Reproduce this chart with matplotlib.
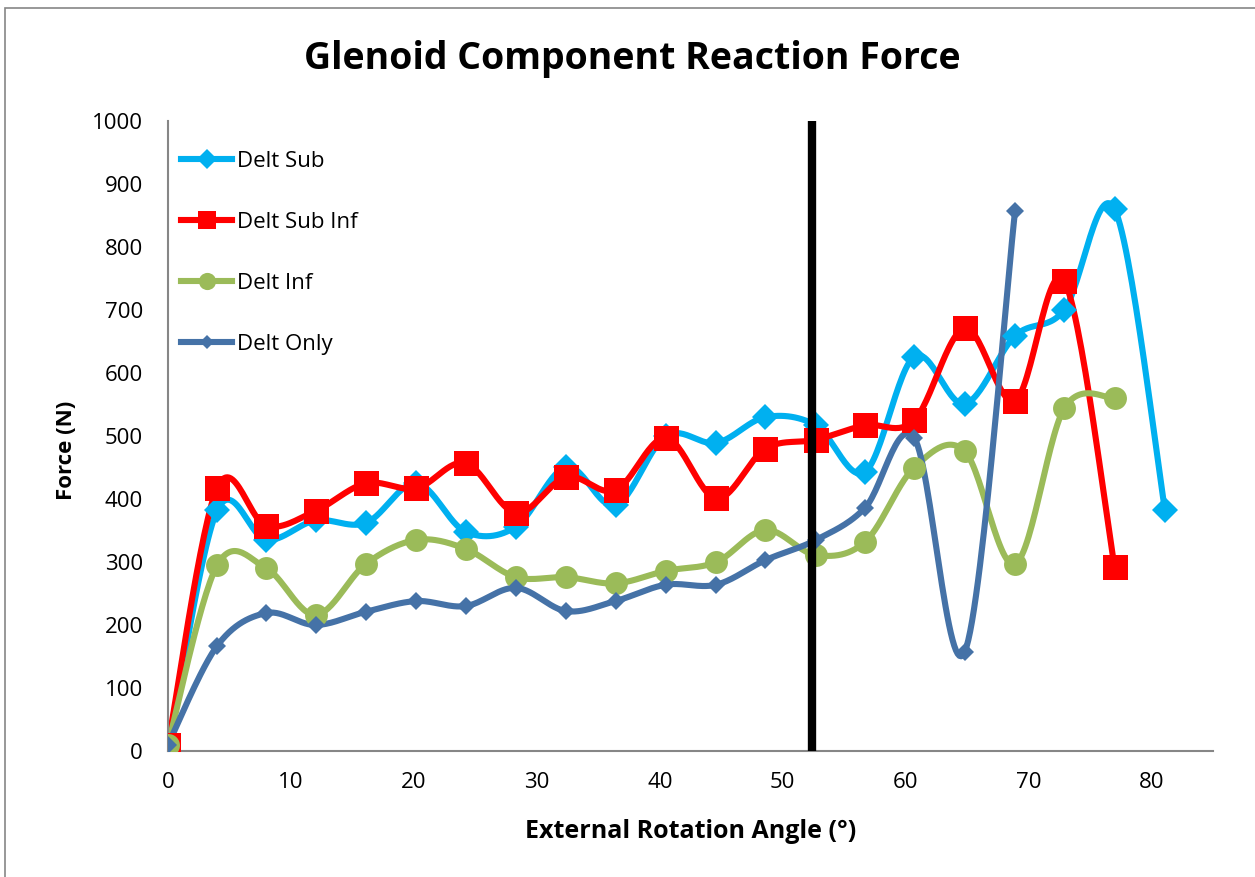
import numpy as np
import matplotlib.pyplot as plt
from matplotlib.patches import Rectangle

plt.rcParams['font.family'] = ['Open Sans', 'DejaVu Sans']

# external rotation angle (deg) at each sample
angle = [0, 4.0, 8.0, 12.0, 16.1, 20.2, 24.2, 28.3, 32.4, 36.4, 40.5,
         44.6, 48.6, 52.7, 56.7, 60.7, 64.8, 68.9, 72.9, 77.0, 81.1]

delt_sub = [0, 382, 335, 366, 362, 425, 348, 356, 451, 390, 500,
            489, 530, 517, 443, 626, 551, 659, 700, 860, 382]
delt_sub_inf = [10, 418, 357, 381, 425, 417, 457, 378, 435, 414, 497,
                401, 480, 494, 517, 525, 671, 556, 746, 292]
delt_inf = [10, 295, 290, 216, 297, 335, 321, 276, 276, 266, 286,
            300, 351, 311, 332, 450, 476, 297, 544, 560]
delt_only = [10, 167, 219, 200, 221, 238, 230, 259, 222, 238, 264,
             264, 303, 335, 386, 497, 157, 857]

marker_line = 52.4


def smooth(x, y, n=30):
    # Catmull-Rom style bezier through every point
    x = np.asarray(x, float)
    y = np.asarray(y, float)
    px = np.concatenate([[x[0]], x, [x[-1]]])
    py = np.concatenate([[y[0]], y, [y[-1]]])
    t = np.linspace(0, 1, n)[:, None]
    xs, ys = [], []
    for i in range(1, len(x)):
        p0 = np.array([px[i], py[i]])
        p3 = np.array([px[i + 1], py[i + 1]])
        c1 = p0 + (np.array([px[i + 1], py[i + 1]]) - np.array([px[i - 1], py[i - 1]])) / 6
        c2 = p3 - (np.array([px[i + 2], py[i + 2]]) - np.array([px[i], py[i]])) / 6
        b = ((1 - t) ** 3) * p0 + 3 * ((1 - t) ** 2) * t * c1 + 3 * (1 - t) * t ** 2 * c2 + t ** 3 * p3
        xs.append(b[:, 0])
        ys.append(b[:, 1])
    return np.concatenate(xs), np.concatenate(ys)


fig = plt.figure(figsize=(12.55, 8.77), dpi=100)
fig.patches.append(Rectangle((5 / 1255, -0.1), 1.2, 1 - 8 / 877 + 0.1,
                             transform=fig.transFigure, fill=False,
                             edgecolor='#868686', linewidth=1.2))
ax = fig.add_axes([168 / 1255, 1 - 751 / 877, (1213 - 168) / 1255, (751 - 121) / 877])

series = [
    ("Delt Sub", delt_sub, '#00B0F0', 'D', 13),
    ("Delt Sub Inf", delt_sub_inf, '#FF0000', 's', 18),
    ("Delt Inf", delt_inf, '#9BBB59', 'o', 16.5),
    ("Delt Only", delt_only, '#4572A7', 'D', 9.5),
]
for name, vals, color, mk, ms in series:
    xv = angle[:len(vals)]
    sx, sy = smooth(xv, vals)
    ax.plot(sx, sy, color=color, linewidth=4.4, solid_capstyle='round', zorder=2)
    ax.plot(xv, vals, linestyle='none', marker=mk, markersize=ms,
            color=color, markeredgewidth=0, zorder=3)
    ax.plot([], [], color=color, linewidth=4.4, marker=mk, markersize=ms * 0.75,
            markeredgewidth=0, label=name)

ax.plot([marker_line, marker_line], [0, 1000], color='black', linewidth=6,
        solid_capstyle='butt', zorder=4)

ax.set_xlim(0, 85)
ax.set_ylim(0, 1000)
ax.set_xticks(range(0, 81, 10))
ax.set_yticks(range(0, 1001, 100))
ax.tick_params(length=0, labelsize=16)
ax.tick_params(axis='y', pad=18)
ax.tick_params(axis='x', pad=15)
for s in ['top', 'right']:
    ax.spines[s].set_visible(False)
for s in ['left', 'bottom']:
    ax.spines[s].set_color('#868686')
    ax.spines[s].set_linewidth(1.5)
for lbl in ax.get_xticklabels() + ax.get_yticklabels():
    lbl.set_clip_on(False)

ax.set_xlabel("External Rotation Angle (°)", fontsize=18, fontweight='bold', va='center')
ax.xaxis.set_label_coords(0.5, (751 - 831) / 630)
ax.set_ylabel("Force (N)", fontsize=16, fontweight='bold', va='center')
ax.yaxis.set_label_coords((67 - 168) / 1045, (751 - 450) / 630)
fig.text(0.504, 1 - 59 / 877, "Glenoid Component Reaction Force", ha='center', va='center',
         fontsize=27, fontweight='bold')

ax.legend(loc='upper left', bbox_to_anchor=(0.0, 0.974), frameon=False, fontsize=16,
          handlelength=2.3, labelspacing=1.8, handletextpad=0.2, borderaxespad=0.2)

fig.savefig('out.png', dpi=100)
